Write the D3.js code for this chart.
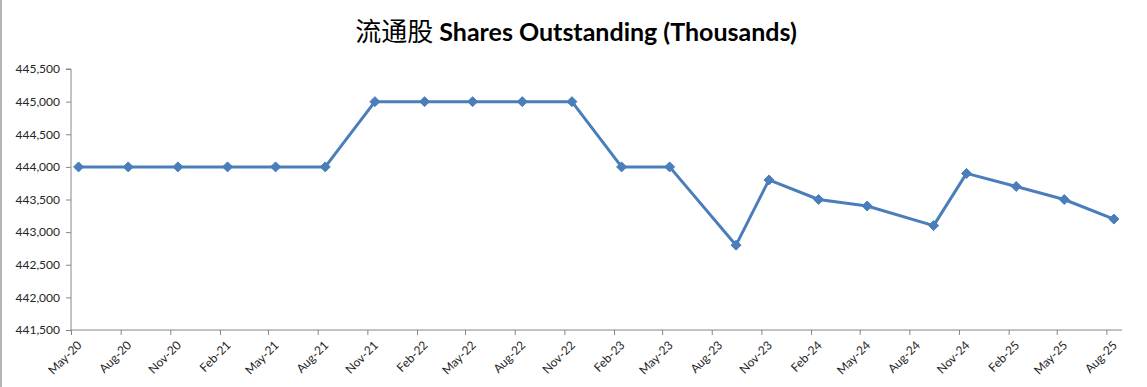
<!DOCTYPE html>
<html>
<head>
<meta charset="utf-8">
<script src="https://cdn.jsdelivr.net/npm/d3@7"></script>
<style>
  html, body { margin: 0; padding: 0; background: #fff; }
  svg { display: block; }
</style>
</head>
<body>
<svg id="chart" width="1147" height="387"></svg>
<script>
// ---- data ----
const dates = [
  "2020-05-15","2020-08-15","2020-11-15","2021-02-15","2021-05-15","2021-08-15",
  "2021-11-15","2022-02-15","2022-05-15","2022-08-15","2022-11-15","2023-02-15",
  "2023-05-15","2023-09-15","2023-11-15","2024-02-15","2024-05-15","2024-09-15",
  "2024-11-15","2025-02-15","2025-05-15","2025-08-15"
];
const shares = [
  444000, 444000, 444000, 444000, 444000, 444000,
  445000, 445000, 445000, 445000, 445000, 444000,
  444000, 442800, 443800, 443500, 443400, 443100,
  443900, 443700, 443500, 443200
];
const tickLabels = [
  "May-20","Aug-20","Nov-20","Feb-21","May-21","Aug-21","Nov-21","Feb-22",
  "May-22","Aug-22","Nov-22","Feb-23","May-23","Aug-23","Nov-23","Feb-24",
  "May-24","Aug-24","Nov-24","Feb-25","May-25","Aug-25"
];
const tickDates = [
  "2020-05-01","2020-08-01","2020-11-01","2021-02-01","2021-05-01","2021-08-01",
  "2021-11-01","2022-02-01","2022-05-01","2022-08-01","2022-11-01","2023-02-01",
  "2023-05-01","2023-08-01","2023-11-01","2024-02-01","2024-05-01","2024-08-01",
  "2024-11-01","2025-02-01","2025-05-01","2025-08-01"
];
const yTicks = [441500, 442000, 442500, 443000, 443500, 444000, 444500, 445000, 445500];
const titleCN = "流通股";
const titleEN = "Shares Outstanding (Thousands)";

// ---- layout ----
const svg = d3.select("#chart");
const parse = d3.utcParse("%Y-%m-%d");
const plot = { left: 71, right: 1122, top: 69, bottom: 330 };

const x = d3.scaleUtc()
  .domain([parse("2020-05-01"), parse("2025-08-30")])
  .range([plot.left, plot.right]);
const y = d3.scaleLinear()
  .domain([441500, 445500])
  .range([plot.bottom, plot.top]);

const axisColor = "#868686";
const lineColor = "#4A7EBB";
const font = "Lato, Carlito, 'Open Sans', sans-serif";

// chart border (left edge)
svg.append("line").attr("x1", 1).attr("x2", 1).attr("y1", 0).attr("y2", 387)
  .attr("stroke", "#b4b4b4").attr("stroke-width", 2);

// title
const title = svg.append("text")
  .attr("x", 576).attr("y", 41)
  .attr("text-anchor", "middle")
  .attr("fill", "#000");
title.append("tspan").text(titleCN)
  .attr("font-family", "'Noto Sans CJK SC', sans-serif")
  .attr("font-size", 26).attr("font-weight", 400);
title.append("tspan").text(" " + titleEN)
  .attr("font-family", font)
  .attr("font-size", 25).attr("font-weight", 700);

// y axis
const yAxis = d3.axisLeft(y).tickValues(yTicks).tickSize(5).tickPadding(6)
  .tickFormat(d3.format(","));
const gy = svg.append("g").attr("transform", `translate(${plot.left},0)`).call(yAxis);
gy.select(".domain").attr("stroke", axisColor).attr("d", `M-5,${plot.top}H0V${plot.bottom}`);
gy.selectAll(".tick line").attr("stroke", axisColor);
gy.selectAll(".tick text").attr("fill", "#262626")
  .attr("font-family", font).attr("font-size", 12);

// x axis
const xAxis = d3.axisBottom(x).tickValues(tickDates.map(parse)).tickSize(5)
  .tickFormat((d, i) => tickLabels[i]);
const gx = svg.append("g").attr("transform", `translate(0,${plot.bottom})`).call(xAxis);
gx.select(".domain").attr("stroke", axisColor).attr("d", `M${plot.left},0H${plot.right}`);
gx.selectAll(".tick line").attr("stroke", axisColor);
gx.selectAll(".tick text")
  .attr("fill", "#262626").attr("font-family", font).attr("font-size", 12)
  .attr("text-anchor", "end")
  .attr("dy", null).attr("y", 0)
  .attr("transform", "translate(11,16) rotate(-45)");

// line
const pts = dates.map((d, i) => ({ date: parse(d), v: shares[i] }));
svg.append("path")
  .datum(pts)
  .attr("fill", "none")
  .attr("stroke", lineColor)
  .attr("stroke-width", 3)
  .attr("stroke-linejoin", "round")
  .attr("d", d3.line().x(d => x(d.date)).y(d => y(d.v)));

// markers
const r = 5;
svg.append("g").selectAll("path")
  .data(pts).join("path")
  .attr("d", d => {
    const cx = x(d.date), cy = y(d.v);
    return `M${cx},${cy - r}L${cx + r},${cy}L${cx},${cy + r}L${cx - r},${cy}Z`;
  })
  .attr("fill", lineColor).attr("stroke", lineColor).attr("stroke-width", 1);
</script>
</body>
</html>
